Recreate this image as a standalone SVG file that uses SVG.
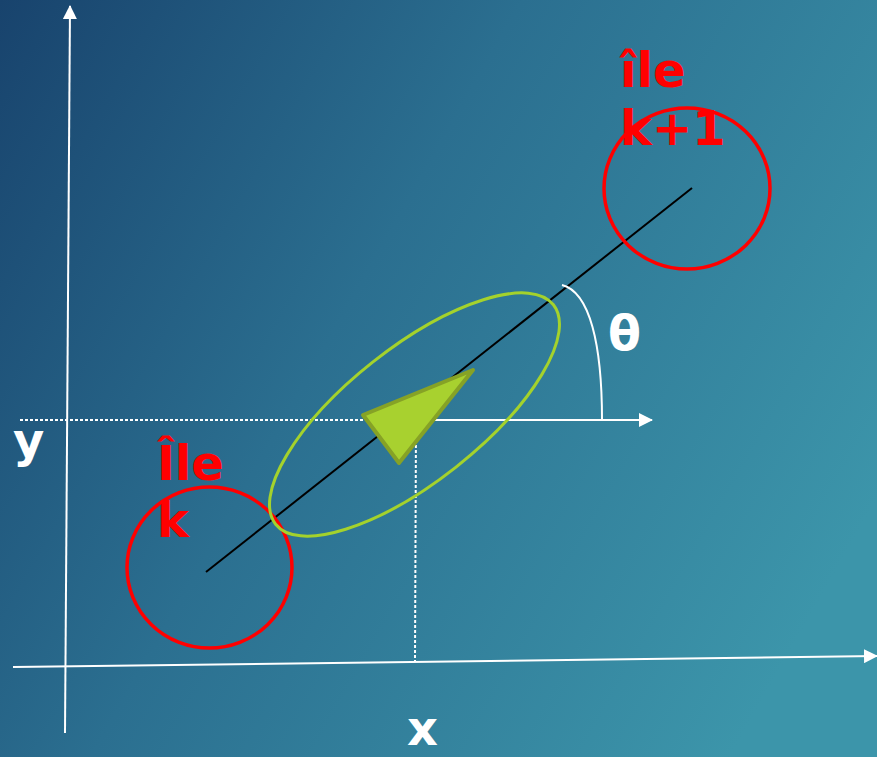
<svg xmlns="http://www.w3.org/2000/svg" width="877" height="757" viewBox="0 0 877 757">
<defs>
<linearGradient id="bg" x1="0" y1="0" x2="877" y2="500" gradientUnits="userSpaceOnUse">
<stop offset="0" stop-color="#18436d"/>
<stop offset="0.45" stop-color="#2b6f90"/>
<stop offset="1" stop-color="#3c95aa"/>
</linearGradient>
<marker id="ah" viewBox="0 0 14 14" refX="13" refY="7" markerWidth="14" markerHeight="14" markerUnits="userSpaceOnUse" orient="auto">
<path d="M0,0 L14,7 L0,14 z" fill="#ffffff"/>
</marker>
<style>
.lbl{font-family:"DejaVu Sans",sans-serif;font-weight:bold;font-size:48px}
.red{fill:#ff0000}
.wh{fill:#ffffff}
.axis{stroke:#ffffff;stroke-width:2;fill:none}
.dot{stroke:#ffffff;stroke-width:2;stroke-dasharray:3 2;fill:none}
.isle{fill:none;stroke:#ff0000;stroke-width:3.5}
</style>
</defs>
<rect width="877" height="757" fill="url(#bg)"/>
<g id="connectors">
<line class="axis" x1="65" y1="733" x2="70" y2="6" marker-end="url(#ah)"/>
<line class="axis" x1="13" y1="667" x2="877" y2="656" marker-end="url(#ah)"/>
<line class="dot" x1="20" y1="420" x2="410" y2="420"/>
<line class="dot" x1="416" y1="420" x2="415" y2="661"/>
<line class="axis" x1="430" y1="420" x2="652" y2="420" marker-end="url(#ah)"/>
<line x1="206" y1="572" x2="692" y2="188" stroke="#000000" stroke-width="2"/>
<path class="axis" d="M562,285 C590,292 602,345 602,420"/>
</g>
<g id="ile-k">
<ellipse class="isle" cx="209.5" cy="567.5" rx="82.5" ry="80.5"/>
<text class="lbl red" x="157" y="480">Île</text>
<text class="lbl red" x="157" y="537">k</text>
</g>
<g id="ile-k1">
<ellipse class="isle" cx="687" cy="188.5" rx="83" ry="80.5"/>
<text class="lbl red" x="620" y="87">île</text>
<text class="lbl red" x="620" y="145">k+1</text>
</g>
<g id="robot">
<ellipse cx="414.5" cy="414.5" rx="177" ry="67" transform="rotate(-38.3 414.5 414.5)" fill="none" stroke="#a4d22c" stroke-width="3"/>
<polygon points="363,415 473,370 399,463" fill="#a8d12f" stroke="#86a226" stroke-width="4" stroke-linejoin="round"/>
</g>
<g id="labels">
<text class="lbl wh" x="13" y="457">y</text>
<text class="lbl wh" x="407" y="745">x</text>
<text class="lbl wh" x="608" y="350">θ</text>
</g>
</svg>
